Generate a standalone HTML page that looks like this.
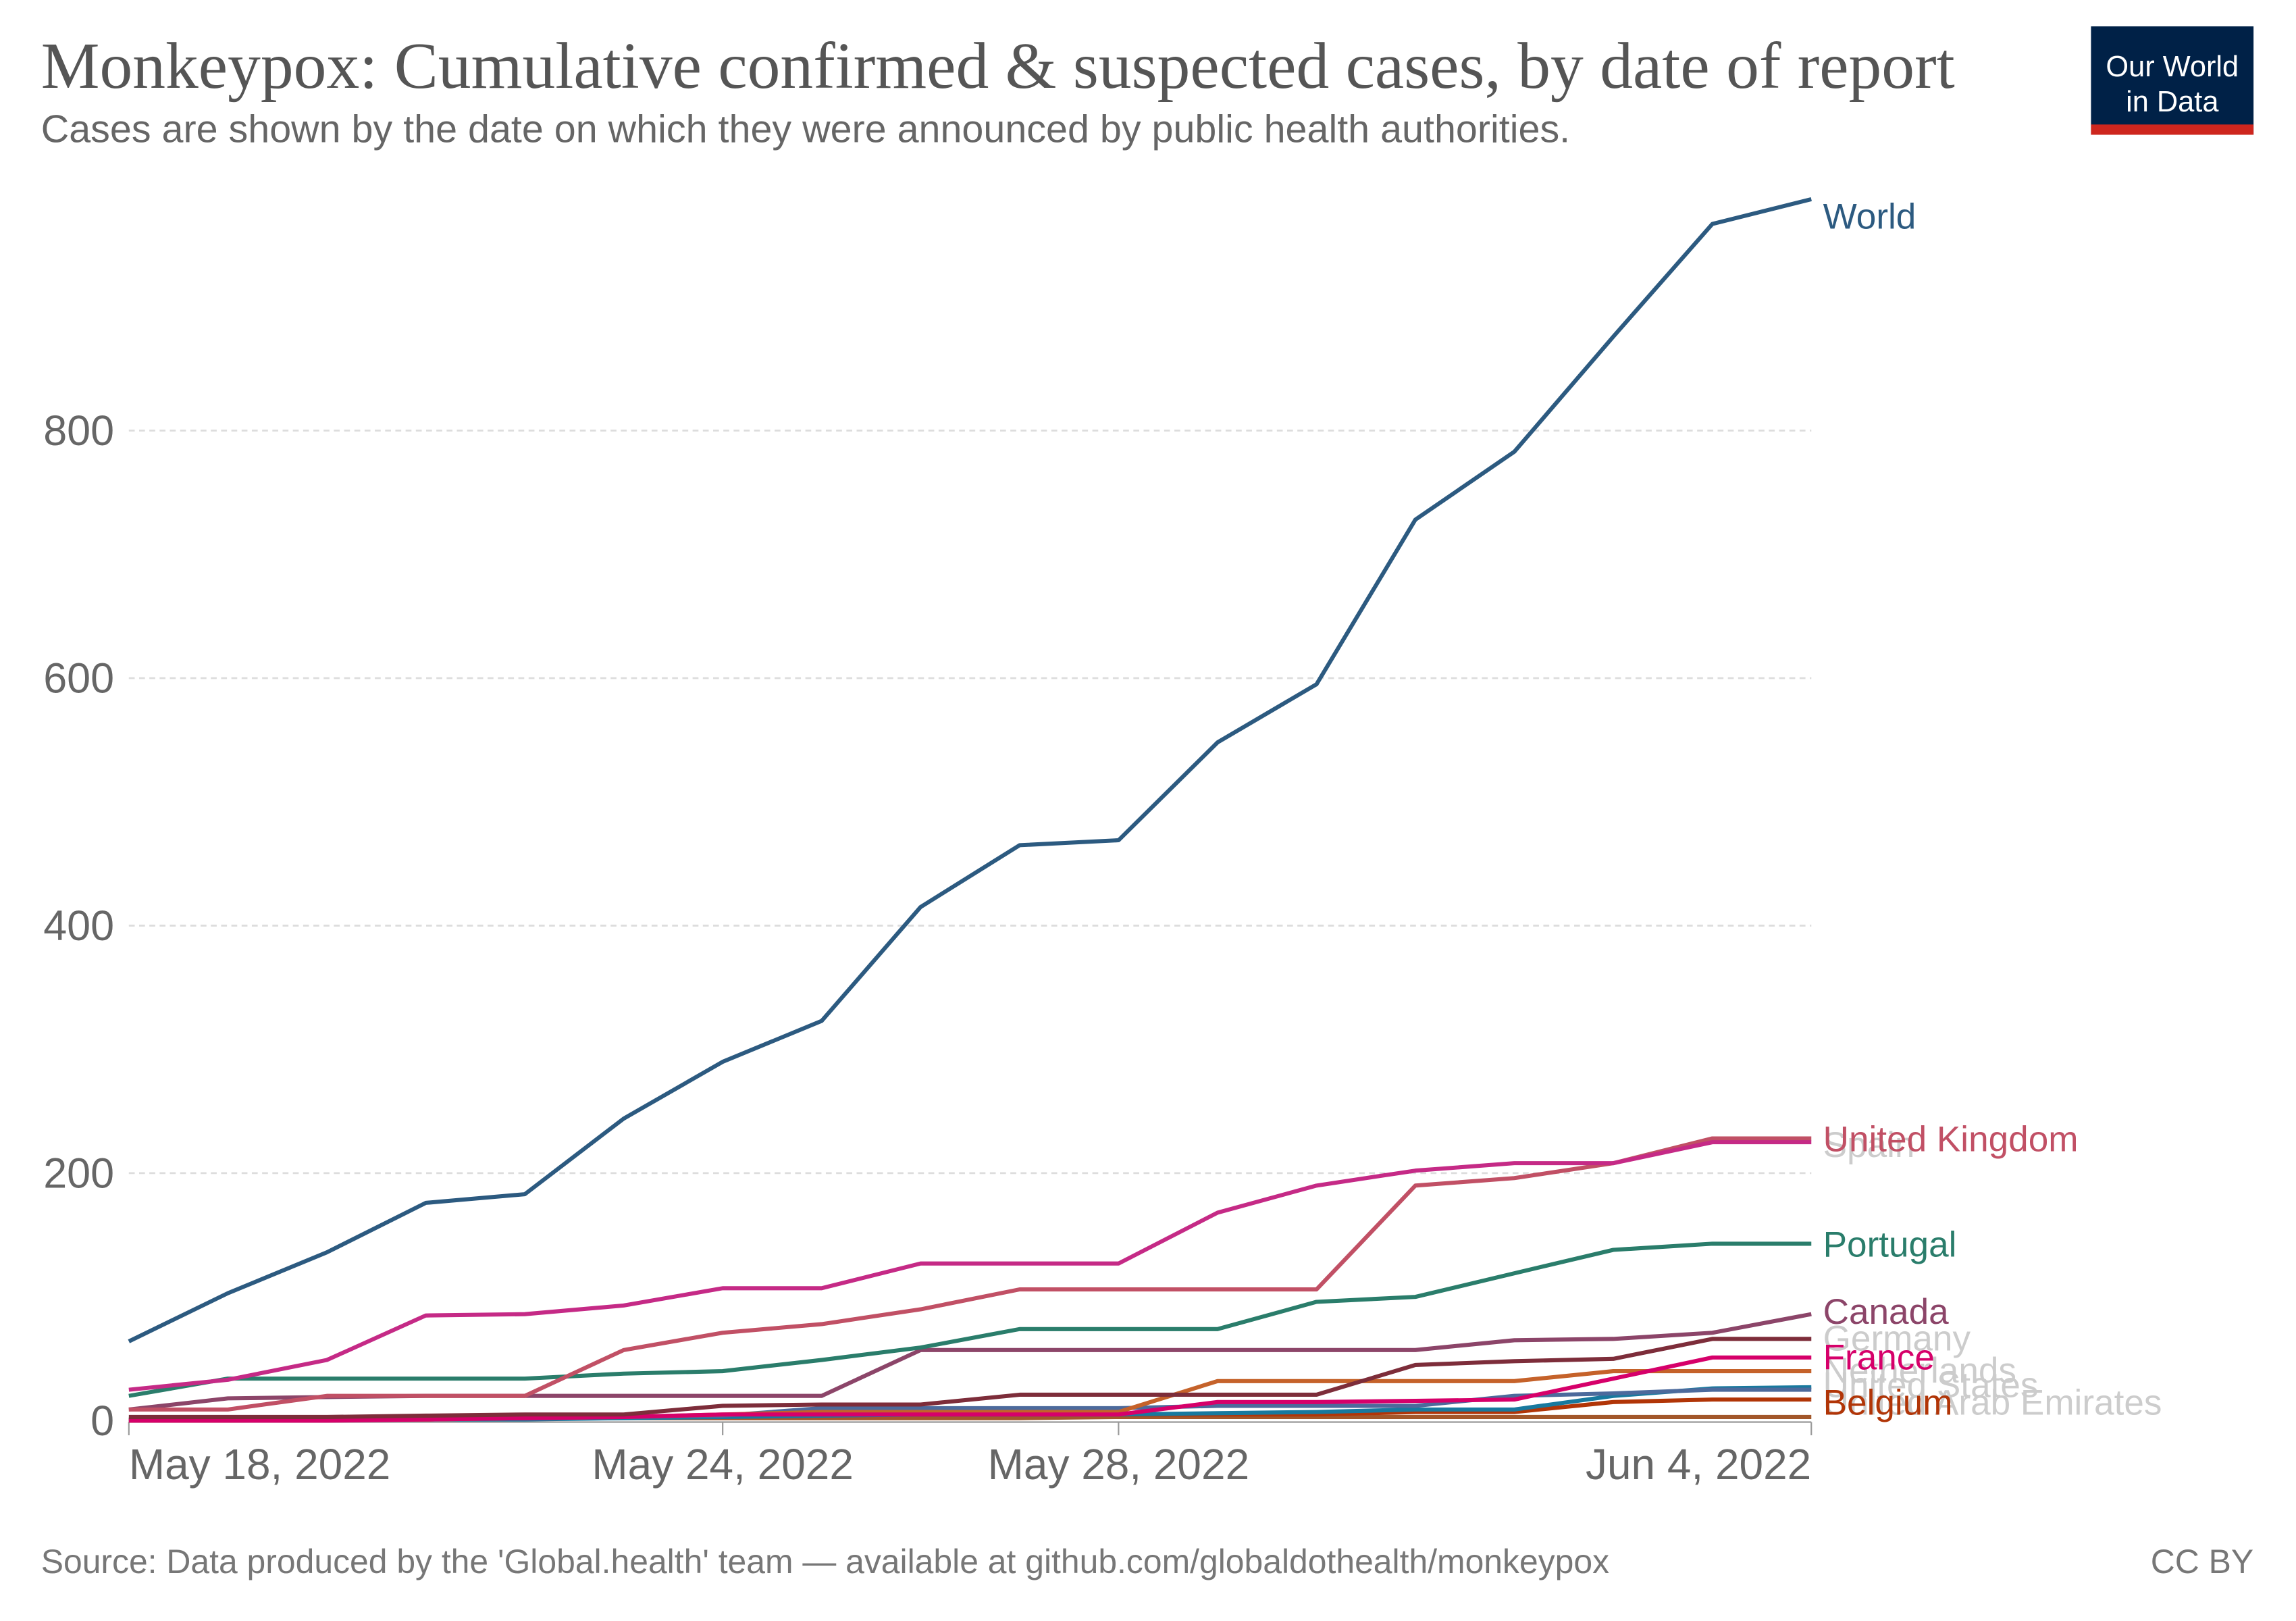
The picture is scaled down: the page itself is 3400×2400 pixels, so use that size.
<!DOCTYPE html>
<html><head><meta charset="utf-8"><style>
html,body{margin:0;padding:0;background:#fff}
svg{display:block}
</style></head><body>
<svg id="chart" width="3400" height="2400" viewBox="0 0 1568 1106.8" xmlns="http://www.w3.org/2000/svg" font-family="'Liberation Sans', sans-serif">
<text x="28" y="60" font-family="'Liberation Serif', serif" font-size="45" fill="#555">Monkeypox: Cumulative confirmed &amp; suspected cases, by date of report</text>
<text x="28" y="97" font-size="26.5" fill="#666">Cases are shown by the date on which they were announced by public health authorities.</text>
<g>
<rect x="1428" y="18" width="111" height="74" fill="#002147"/>
<rect x="1428" y="85" width="111" height="7" fill="#ce261e"/>
<text x="1483.5" y="52" text-anchor="middle" font-size="20" fill="#fff">Our World</text>
<text x="1483.5" y="76" text-anchor="middle" font-size="20" fill="#fff">in Data</text>
</g>
<g id="grid"></g><g id="axes"></g><g id="lines"></g><g id="labels"></g>
<text x="28" y="1074" font-size="23" fill="#777">Source: Data produced by the 'Global.health' team — available at github.com/globaldothealth/monkeypox</text>
<text x="1539" y="1074" text-anchor="end" font-size="23" fill="#777">CC BY</text>
</svg>
<script>
const dayLabels = ["May 18, 2022","May 24, 2022","May 28, 2022","Jun 4, 2022"];
const dayTickIdx = [0,6,10,17];
const yTicks = [0,200,400,600,800];
const world = [64,103,136,176,183,244,290,323,415,465,469,548,595,728,783,876,967,987];
const unitedKingdom = [9,9,20,20,20,57,71,78,90,106,106,106,106,190,196,208,228,228];
const spain = [25,33,49,85,86,93,107,107,127,127,127,168,190,202,208,208,225,225];
const portugal = [20,34,34,34,34,38,40,49,59,74,74,74,96,100,119,138,143,143];
const canada = [9,18,19,20,20,20,20,20,57,57,57,57,57,57,65,66,71,86];
const germany = [3,3,3,4,5,5,12,13,13,21,21,21,21,45,48,50,66,66];
const france = [0,0,0,1,2,3,5,5,5,5,5,15,15,16,17,34,51,51];
const netherlands = [0,0,1,1,2,3,5,7,7,7,7,32,32,32,32,40,40,40];
const unitedStates = [1,1,2,2,2,3,4,10,10,10,10,12,12,12,20,22,25,25];
const italy = [0,0,1,1,1,2,3,4,5,5,5,6,7,9,9,20,26,27];
const belgium = [0,0,1,1,2,3,4,5,5,5,5,5,5,7,7,15,17,17];
const others = [1,1,1,1,2,2,2,2,2,2,3,3,3,3,3,3,3,3];
const seriesNames = ["Other","Belgium","Italy","United States","Netherlands","France","Germany","Canada","Portugal","United Kingdom","Spain","World"];
const seriesData = [others,belgium,italy,unitedStates,netherlands,france,germany,canada,portugal,unitedKingdom,spain,world];
const seriesColors = ["#a2572a","#b13507","#18799e","#4c6a9c","#c5622a","#d6006a","#7d2d3a","#8c4569","#2a7d6b","#c15065","#c52a86","#2c5a80"];
const NS="http://www.w3.org/2000/svg";
const x0=88,x1=1237,yBase=970,yTop=294;
const xs=i=>x0+(x1-x0)*i/17;
const ys=v=>yBase-(yBase-yTop)*v/800;
function mk(tag,attrs,parent){const e=document.createElementNS(NS,tag);for(const k in attrs)e.setAttribute(k,attrs[k]);parent.appendChild(e);return e;}
const grid=document.getElementById('grid'),axes=document.getElementById('axes'),lines=document.getElementById('lines'),labels=document.getElementById('labels');
yTicks.forEach(v=>{
 if(v>0){const g=mk('line',{x1:x0,x2:x1,y1:ys(v),y2:ys(v),stroke:'#ddd','stroke-width':1.3,'stroke-dasharray':'4,3'},grid);
 
 }
 const t=mk('text',{x:78,y:ys(v)+10,'text-anchor':'end','font-size':29,fill:'#666'},axes);t.textContent=v;
 
 
});
const ax=mk('line',{x1:x0,x2:x1,y1:yBase+1,y2:yBase+1,stroke:'#999','stroke-width':1},axes);


dayTickIdx.forEach((d,i)=>{
 const tk=mk('line',{x1:xs(d),x2:xs(d),y1:yBase+1,y2:yBase+10,stroke:'#999','stroke-width':1},axes);
 
 
 const anchor=i===0?'start':(i===dayTickIdx.length-1?'end':'middle');
 const t=mk('text',{x:xs(d),y:1010,'text-anchor':anchor,'font-size':29.5,fill:'#666'},axes);t.textContent=dayLabels[i];
 
 
});
seriesData.forEach((arr,si)=>{
 const d=arr.map((v,i)=>(i?'L':'M')+xs(i).toFixed(1)+','+ys(v).toFixed(1)).join('');
 const p=mk('path',{d:d,fill:'none',stroke:seriesColors[si],'stroke-width':2.8,'stroke-linejoin':'round'},lines);
 
 
});
const labelItems=[["World",156,"#2c5a80"],["Spain",790,"#ccc"],["United Kingdom",786,"#c15065"],["Portugal",858,"#2a7d6b"],["Canada",904,"#8c4569"],["Germany",922,"#ccc"],["Netherlands",944,"#ccc"],["United States",954,"#ccc"],["United Arab Emirates",966,"#ccc"],["France",935,"#d6006a"],["Belgium",966,"#b13507"]];
labelItems.forEach(l=>{
 const t=mk('text',{x:1245,y:l[1],'font-size':24.5,fill:l[2]},labels);t.textContent=l[0];
 
 
});
</script>
</body></html>
